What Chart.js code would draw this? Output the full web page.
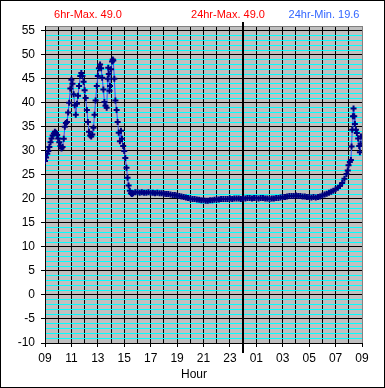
<!DOCTYPE html>
<html>
<head>
<meta charset="utf-8">
<script src="https://cdn.jsdelivr.net/npm/chart.js@4.4.1/dist/chart.umd.min.js"></script>
<style>
    html, body { margin: 0; padding: 0; background: #fff; }
    #tempChart { display: block; }
</style>
</head>
<body>
<canvas id="tempChart" width="385" height="388"></canvas>
<script>
// hours since 09:00 of the first sample
const sampleHours = [
    0.00, 0.08, 0.17, 0.25, 0.33, 0.42, 0.50, 0.58, 0.67, 0.75, 0.83, 0.92,
    1.00, 1.08, 1.17, 1.25, 1.33, 1.42, 1.50, 1.58, 1.67, 1.75, 1.83, 1.92,
    2.00, 2.08, 2.17, 2.25, 2.33, 2.42, 2.50, 2.58, 2.67, 2.75, 2.83, 2.92,
    3.00, 3.08, 3.17, 3.25, 3.33, 3.42, 3.50, 3.58, 3.67, 3.75, 3.83, 3.92,
    4.00, 4.08, 4.17, 4.25, 4.33, 4.42, 4.50, 4.58, 4.67, 4.75, 4.79, 4.83, 4.88, 4.92,
    5.00, 5.08, 5.13, 5.17, 5.25, 5.33, 5.42, 5.50, 5.58, 5.67, 5.75, 5.83, 5.92,
    6.00, 6.08, 6.17, 6.25, 6.33, 6.42, 6.50, 6.58, 6.67, 6.83,
    7.00, 7.17, 7.33, 7.50, 7.67, 7.83, 8.00, 8.17, 8.33, 8.50, 8.67, 8.83,
    9.00, 9.17, 9.33, 9.50, 9.67, 9.83, 10.00, 10.17, 10.33, 10.50, 10.67, 10.83,
    11.00, 11.17, 11.33, 11.50, 11.67, 11.83, 12.00, 12.17, 12.33, 12.50, 12.67, 12.83,
    13.00, 13.17, 13.33, 13.50, 13.67, 13.83, 14.00, 14.17, 14.33, 14.50, 14.67, 14.83,
    15.00, 15.17, 15.33, 15.50, 15.67, 15.83, 16.00, 16.17, 16.33, 16.50, 16.67, 16.83,
    17.00, 17.17, 17.33, 17.50, 17.67, 17.83, 18.00, 18.17, 18.33, 18.50, 18.67, 18.83,
    19.00, 19.17, 19.33, 19.50, 19.67, 19.83, 20.00, 20.17, 20.33, 20.50, 20.67, 20.83,
    21.00, 21.17, 21.33, 21.50, 21.67, 21.83, 22.00, 22.17, 22.33, 22.50, 22.67, 22.83,
    22.92, 22.98, 23.08, 23.16, 23.21, 23.26, 23.31, 23.36, 23.41, 23.46, 23.54, 23.61,
    23.71, 23.79, 23.84, 23.89, 23.92
];

const tempValues = [
    27.9, 28.6, 29.4, 30.0, 30.8, 31.8, 32.6, 33.2, 33.6, 34.0, 33.8, 33.3,
    32.6, 31.8, 31.0, 30.5, 30.8, 32.5, 35.0, 35.8, 36.0, 38.0, 40.0, 43.0,
    44.8, 44.0, 41.8, 39.5, 37.5, 39.8, 41.5, 43.5, 45.6, 46.2, 45.6, 44.4,
    42.6, 41.0, 38.5, 36.0, 34.0, 33.2, 33.0, 33.4, 34.8, 37.5, 40.5, 43.5,
    45.6, 47.2, 48.0, 47.2, 45.2, 42.8, 40.2, 39.4, 39.0, 45.0, 47.3, 46.0, 42.5, 43.5,
    47.0, 48.6, 49.0, 48.8, 45.0, 40.5, 38.5, 36.0, 33.8, 32.0, 34.2, 32.5, 31.0,
    30.0, 28.5, 26.5, 24.4, 22.8, 21.7, 21.2, 21.0, 21.2, 21.4,
    21.4, 21.3, 21.4, 21.3, 21.3, 21.4, 21.3, 21.3, 21.2, 21.3, 21.2, 21.2,
    21.1, 21.0, 21.0, 20.9, 20.8, 20.8, 20.7, 20.6, 20.5, 20.4, 20.3, 20.2,
    20.1, 20.0, 20.0, 19.9, 19.8, 19.7, 19.7, 19.6, 19.6, 19.7, 19.7, 19.8,
    19.9, 19.9, 20.0, 20.0, 20.0, 20.0, 20.1, 20.0, 20.1, 20.1, 20.1, 20.0,
    20.1, 20.1, 20.2, 20.2, 20.1, 20.2, 20.2, 20.1, 20.2, 20.2, 20.1, 20.1,
    20.0, 20.1, 20.1, 20.2, 20.2, 20.3, 20.4, 20.4, 20.5, 20.6, 20.6, 20.6,
    20.7, 20.6, 20.6, 20.5, 20.5, 20.4, 20.4, 20.3, 20.4, 20.3, 20.4, 20.5,
    20.7, 20.9, 21.1, 21.3, 21.5, 21.7, 22.0, 22.3, 22.7, 23.3, 24.2, 25.2,
    25.9, 27.0, 27.7, 28.1, 30.9, 34.4, 37.2, 38.8, 37.2, 35.6, 34.4, 33.7,
    32.6, 31.0, 29.7, 31.5, 33.0
];

const hourLabels = ["09", "11", "13", "15", "17", "19", "21", "23", "01", "03", "05", "07", "09"];
const tempTicks = [-10, -5, 0, 5, 10, 15, 20, 25, 30, 35, 40, 45, 50, 55];
const headerLabels = ["6hr-Max. 49.0", "24hr-Max. 49.0", "24hr-Min. 19.6"];
const axisTitle = "Hour";
const midnightHour = 15;

Chart.defaults.font.family = "'Liberation Sans', Arial, sans-serif";
Chart.defaults.font.size = 12;
Chart.defaults.color = "#000";

const plotBackground = {
    id: "plotBackground",
    beforeDraw(chart) {
        const { ctx, chartArea: a } = chart;
        ctx.save();
        ctx.fillStyle = "#fff";
        ctx.fillRect(0, 0, chart.width, chart.height);
        ctx.fillStyle = "#c0c0c0";
        ctx.fillRect(a.left, a.top, a.right - a.left, a.bottom - a.top);
        ctx.restore();
    },
    beforeDatasetsDraw(chart) {
        const { ctx, chartArea: a } = chart;
        const x = Math.round(chart.scales.x.getPixelForValue(midnightHour));
        ctx.save();
        ctx.strokeStyle = "#000";
        ctx.lineWidth = 2;
        ctx.beginPath();
        ctx.moveTo(x, a.top - 4);
        ctx.lineTo(x, a.bottom + 10);
        ctx.stroke();
        ctx.restore();
    },
    afterDraw(chart) {
        const { ctx } = chart;
        ctx.save();
        ctx.font = "11px 'Liberation Sans', Arial, sans-serif";
        ctx.textAlign = "center";
        ctx.textBaseline = "alphabetic";
        ctx.fillStyle = "#ff0000";
        ctx.fillText(headerLabels[0], 88, 18);
        ctx.fillText(headerLabels[1], 228, 18);
        ctx.fillStyle = "#3366ff";
        ctx.fillText(headerLabels[2], 324, 18);

        ctx.font = "12px 'Liberation Sans', Arial, sans-serif";
        ctx.fillStyle = "#000";
        ctx.fillText(axisTitle, 194, 378);

        ctx.strokeStyle = "#000";
        ctx.lineWidth = 1;
        ctx.strokeRect(0.5, 0.5, chart.width - 1, chart.height - 1);
        ctx.restore();
    }
};

const ctx = document.getElementById("tempChart").getContext("2d");

new Chart(ctx, {
    type: "line",
    data: {
        datasets: [{
            data: sampleHours.map((h, i) => ({ x: h, y: tempValues[i] })),
            borderColor: "#3355ee",
            borderWidth: 1,
            tension: 0,
            pointStyle: "cross",
            pointRadius: 3,
            pointBorderColor: "#000080",
            pointBorderWidth: 2,
            fill: false
        }]
    },
    options: {
        responsive: false,
        animation: false,
        layout: { padding: { top: 26, right: 23, bottom: 0, left: 0 } },
        plugins: {
            legend: { display: false },
            tooltip: { enabled: false }
        },
        scales: {
            x: {
                type: "linear",
                min: 0,
                max: 24,
                afterFit: scale => { scale.height = 45; },
                ticks: {
                    stepSize: 1,
                    autoSkip: false,
                    maxRotation: 0,
                    padding: 4,
                    callback: v => (v % 2 === 0 ? hourLabels[v / 2] : "")
                },
                grid: {
                    color: c => (c.tick && c.tick.value === 24 ? "#808080" : "#000"),
                    tickColor: c => (c.tick && c.tick.value % 2 === 0 ? "#000" : "rgba(0,0,0,0)"),
                    tickLength: 4
                },
                border: { color: "#000" }
            },
            y: {
                min: -10,
                max: 56,
                afterFit: scale => { scale.width = 45; },
                ticks: {
                    stepSize: 1,
                    autoSkip: false,
                    padding: 6,
                    callback: v => (tempTicks.includes(v) ? String(v) : "")
                },
                grid: {
                    color: c => {
                        const v = c.tick ? c.tick.value : 0;
                        if (v === 56) return "#808080";
                        return tempTicks.includes(v) ? "#000" : "#00ffff";
                    },
                    tickColor: c => (c.tick && tempTicks.includes(c.tick.value) ? "#000" : "rgba(0,0,0,0)"),
                    tickLength: 4
                },
                border: { color: "#000" }
            }
        }
    },
    plugins: [plotBackground]
});
</script>
</body>
</html>
